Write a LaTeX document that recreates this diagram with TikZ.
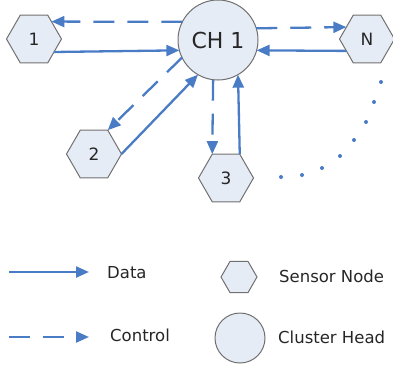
\documentclass[tikz,border=0pt]{standalone}
\usepackage{fontspec}
\setmainfont{DejaVu Sans}
\usetikzlibrary{shapes.geometric,arrows.meta}
\definecolor{linkblue}{HTML}{4A7CC6}
\definecolor{nodefill}{HTML}{E6ECF6}
\definecolor{nodeline}{HTML}{707070}
\tikzset{
  sensor/.style={regular polygon, regular polygon sides=6, minimum size=55pt,
    inner sep=0pt, outer sep=0pt, draw=nodeline, line width=1pt, fill=nodefill,
    text=black!85, font=\fontsize{17}{17}\selectfont},
  head/.style={circle, minimum size=80pt, inner sep=0pt, outer sep=0pt,
    draw=nodeline, line width=1pt, fill=nodefill, text=black!85,
    font=\fontsize{22}{22}\selectfont},
  data/.style={-{Triangle[length=13pt,width=11pt]}, draw=linkblue, line width=2.3pt},
  control/.style={data, dash pattern=on 21pt off 13pt},
  legend/.style={anchor=west, inner sep=0pt, text=black!85,
    font=\fontsize{16.5}{16.5}\selectfont}
}
\begin{document}
\begin{tikzpicture}[x=1pt,y=-1pt]
      \useasboundingbox (0,0) rectangle (393,370);
      \draw
        (218,40) node[head] (ch){CH 1}
        (34,39) node[sensor] (s1){1}
        (94,154) node[sensor] (s2){2}
        (226,178) node[sensor] (s3){3}
        (367,39) node[sensor] (sn){N};
      \begin{scope}[data]
        \draw[control] (ch.153) to (s1.45);
        \draw (s1.-33) to (ch.195);
        \draw[control] (ch.17) to (sn.150);
        \draw (sn.210) to (ch.-15);
        \draw[control] (ch.206) to (s2.60);
        \draw (s2.east) to (ch.240);
        \draw[control] (ch.263) to (s3.120);
        \draw (s3.60) to (ch.300);
      \end{scope}
      % nodes between 3 and N
      \foreach \p in {(281,177),(302,175),(322,168),(340,156),
                      (354,140),(366,122),(374,102),(381,82)}
        \fill[linkblue] \p circle (2);
      % legend
      \coordinate (dataA) at (9,272);
      \coordinate (dataB) at (89,272);
      \coordinate (ctrlA) at (9,337);
      \coordinate (ctrlB) at (89,337);
      \draw[data] (dataA) to (dataB);
      \draw[control] (ctrlA) to (ctrlB);
      \draw
        (107,273) node[legend] (dataL){Data}
        (110,335) node[legend] (ctrlL){Control}
        (239,277) node[sensor, minimum size=36pt] (keyS){}
        (240,338) node[head, minimum size=50pt] (keyH){}
        (279,276) node[legend] (keySL){Sensor Node}
        (278,337) node[legend] (keyHL){Cluster Head};
    \end{tikzpicture}
\end{document}
